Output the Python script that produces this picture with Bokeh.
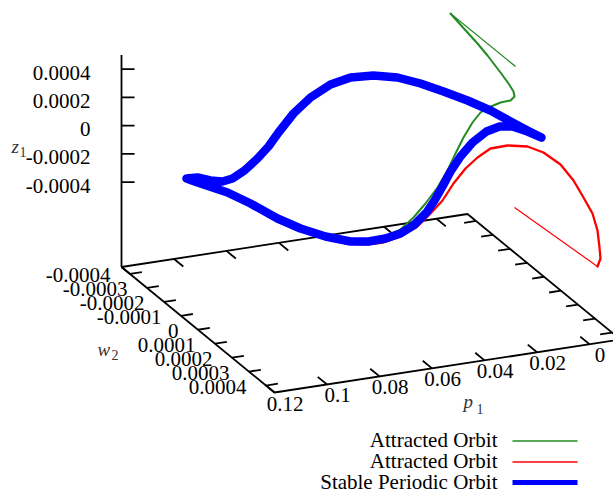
import math
from bokeh.plotting import figure
from bokeh.models import Range1d
from bokeh.core.properties import value
from bokeh.embed import file_html
from bokeh.resources import INLINE

# ---------------- data ----------------
P1_RANGE = (-0.0118, 0.12)
W2_RANGE = (-0.00045, 0.00045)
Z_RANGE = (-0.0005, 0.0005)
Z_BASE = -0.001

p1_ticks = [0.0, 0.02, 0.04, 0.06, 0.08, 0.10, 0.12]
p1_tick_labels = ["0", "0.02", "0.04", "0.06", "0.08", "0.1", "0.12"]
w2_ticks = [-0.0004, -0.0003, -0.0002, -0.0001, 0.0, 0.0001, 0.0002, 0.0003, 0.0004]
w2_tick_labels = ["-0.0004", "-0.0003", "-0.0002", "-0.0001", "0",
                  "0.0001", "0.0002", "0.0003", "0.0004"]
z_ticks = [-0.0004, -0.0002, 0.0, 0.0002, 0.0004]
z_tick_labels = ["-0.0004", "-0.0002", "0", "0.0002", "0.0004"]

series_names = ["Attracted Orbit", "Attracted Orbit", "Stable Periodic Orbit"]
series_colors = ["#228b22", "#ff0000", "#0000ff"]
series_widths = [1.3, 1.5, 5.0]

# orbits, in projected view-plane coordinates
green_tail_x = [515, 450]
green_tail_y = [66, 13]
green_x = [450, 458, 467, 477, 487, 500, 508, 513, 514, 510, 500, 488, 480, 472, 463,
           455, 447, 437, 425, 413, 400, 385, 365, 345, 325]
green_y = [13, 22, 32, 43, 55, 72, 83, 91, 96, 100, 102, 107, 112, 122, 137,
           153, 170, 187, 203, 217, 229, 236, 239, 239, 234]

red_tail_x = [514, 597]
red_tail_y = [207, 266]
red_x = [597, 600, 599, 597, 592, 583, 573, 560, 543, 527, 507, 490, 477, 465, 453,
         442, 430, 417, 400, 383, 365, 345, 325]
red_y = [266, 258, 247, 230, 213, 197, 180, 164, 152, 146, 145, 148, 157, 168, 183,
         200, 213, 226, 236, 242, 244, 243, 238]

blue_x = [186, 197, 210, 222, 232, 244, 257, 268, 278, 293, 310, 330, 350, 373, 397,
          420, 443, 467, 490, 510, 527, 541, 527, 512, 499, 486, 472, 460, 450, 442,
          434, 426, 413, 400, 385, 368, 350, 325, 300, 277, 250, 227, 212, 197, 186]
blue_y = [178, 177, 180, 181, 178, 170, 158, 146, 132, 113, 97, 84, 77, 75, 77,
          83, 91, 100, 110, 121, 130, 137, 131, 126, 126, 131, 142, 156, 171, 186,
          200, 212, 225, 233, 238, 241, 241, 236, 228, 218, 203, 192, 187, 182, 178]

# ---------------- view (projection) ----------------
ORIGIN = (121.0, 266.5)     # corner p1=max, w2=min, z=base
P1_VEC = (346.0, -53.0)     # from p1 max to p1 min
W2_VEC = (153.0, 125.5)     # from w2 min to w2 max
Z_LEN = 212.0               # from z base up to z max
TIC = 12.0
ZTIC = 13.0


def proj(p1, w2, z):
    fp = (P1_RANGE[1] - p1) / (P1_RANGE[1] - P1_RANGE[0])
    fw = (w2 - W2_RANGE[0]) / (W2_RANGE[1] - W2_RANGE[0])
    fz = (z - Z_BASE) / (Z_RANGE[1] - Z_BASE)
    x = ORIGIN[0] + fp * P1_VEC[0] + fw * W2_VEC[0]
    y = ORIGIN[1] + fp * P1_VEC[1] + fw * W2_VEC[1] - fz * Z_LEN
    return x, y


def unit(v):
    n = math.hypot(v[0], v[1])
    return (v[0] / n, v[1] / n)


uP = unit(P1_VEC)
uW = unit(W2_VEC)

p = figure(width=613, height=493, x_range=Range1d(0, 613), y_range=Range1d(493, 0),
           output_backend="svg", toolbar_location=None, min_border=0,
           x_axis_location=None, y_axis_location=None, outline_line_color=None,
           background_fill_color="white", border_fill_color="white")
p.grid.visible = False

FONT = value("Liberation Serif")
AX = "black"
AXW = 1.8
TICK_FS = "21px"

# base box
corners = [proj(P1_RANGE[1], W2_RANGE[0], Z_BASE), proj(P1_RANGE[1], W2_RANGE[1], Z_BASE),
           proj(P1_RANGE[0], W2_RANGE[1], Z_BASE), proj(P1_RANGE[0], W2_RANGE[0], Z_BASE)]
corners.append(corners[0])
p.line([c[0] for c in corners], [c[1] for c in corners], line_color=AX, line_width=AXW)

# vertical z axis
zb = proj(P1_RANGE[1], W2_RANGE[0], Z_BASE)
zt = proj(P1_RANGE[1], W2_RANGE[0], Z_RANGE[1])
p.line([zb[0], zt[0]], [zb[1], zt[1]], line_color=AX, line_width=AXW)

x0, y0, x1, y1 = [], [], [], []
# p1 ticks (front and back edges)
for t in p1_ticks:
    bx_, by_ = proj(t, W2_RANGE[1], Z_BASE)
    x0.append(bx_); y0.append(by_); x1.append(bx_ - TIC * uW[0]); y1.append(by_ - TIC * uW[1])
    bx_, by_ = proj(t, W2_RANGE[0], Z_BASE)
    x0.append(bx_); y0.append(by_); x1.append(bx_ + TIC * uW[0]); y1.append(by_ + TIC * uW[1])
# w2 ticks (left and right edges)
for t in w2_ticks:
    bx_, by_ = proj(P1_RANGE[1], t, Z_BASE)
    x0.append(bx_); y0.append(by_); x1.append(bx_ + TIC * uP[0]); y1.append(by_ + TIC * uP[1])
    bx_, by_ = proj(P1_RANGE[0], t, Z_BASE)
    x0.append(bx_); y0.append(by_); x1.append(bx_ - TIC * uP[0]); y1.append(by_ - TIC * uP[1])
# z ticks
for t in z_ticks:
    bx_, by_ = proj(P1_RANGE[1], W2_RANGE[0], t)
    x0.append(bx_); y0.append(by_); x1.append(bx_ + ZTIC); y1.append(by_)
p.segment(x0, y0, x1, y1, line_color=AX, line_width=AXW)

# tick labels
lp = [proj(t, W2_RANGE[1], Z_BASE) for t in p1_ticks]
p.text([q[0] + 10.5 for q in lp], [q[1] + 11 for q in lp], text=p1_tick_labels,
       text_font=FONT, text_font_size=TICK_FS, text_align="center",
       text_baseline="middle", text_color="black")
lw = [proj(P1_RANGE[1], t, Z_BASE) for t in w2_ticks]
p.text([q[0] - 19.5 for q in lw], [q[1] + 1.5 for q in lw], text=w2_tick_labels,
       text_font=FONT, text_font_size=TICK_FS, text_align="right",
       text_baseline="middle", text_color="black")
lz = [proj(P1_RANGE[1], W2_RANGE[0], t) for t in z_ticks]
p.text([q[0] - 31 for q in lz], [q[1] + 3.5 for q in lz], text=z_tick_labels,
       text_font=FONT, text_font_size=TICK_FS, text_align="right",
       text_baseline="middle", text_color="black")

# axis titles (italic letter + subscript)
LBL = "#333333"
p.text([11, 97, 463], [146, 348.5, 400.5], text=["z", "w", "p"], text_font=FONT,
       text_font_size="19px", text_font_style="italic", text_align="left",
       text_baseline="middle", text_color=LBL)
p.text([19, 111, 476], [151, 354, 408], text=["1", "2", "1"], text_font=FONT,
       text_font_size="14px", text_align="left", text_baseline="middle",
       text_color=LBL)

# curves (drawn in plot order: green, red, blue)
p.line(green_tail_x, green_tail_y, line_color=series_colors[0], line_width=1.2)
p.line(green_x, green_y, line_color=series_colors[0], line_width=2.0,
       line_join="round", line_cap="round")
p.line(red_tail_x, red_tail_y, line_color=series_colors[1], line_width=1.2)
p.line(red_x, red_y, line_color=series_colors[1], line_width=2.3,
       line_join="round", line_cap="round")
p.line(blue_x, blue_y, line_color=series_colors[2], line_width=8.5,
       line_join="round", line_cap="round")

# legend (key)
key_text_x = 497
key_line_x = (512, 577)
key_rows = [439.5, 460.5, 481]
p.text([key_text_x] * 3, key_rows, text=series_names, text_font=FONT,
       text_font_size="21px", text_align="right", text_baseline="middle",
       text_color="black")
for i in range(3):
    p.line([key_line_x[0], key_line_x[1]], [key_rows[i] + 1, key_rows[i] + 1],
           line_color=series_colors[i], line_width=series_widths[i])

open("out.html", "w").write(file_html(p, INLINE))
